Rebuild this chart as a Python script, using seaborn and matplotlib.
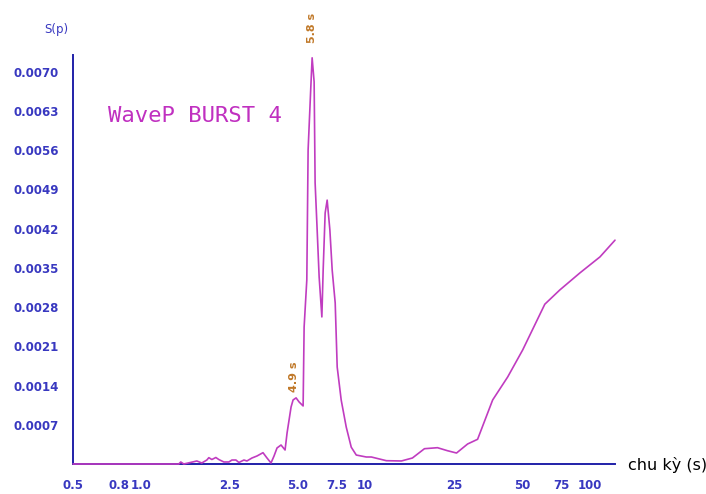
import matplotlib
matplotlib.use("Agg")
import matplotlib.pyplot as plt
import seaborn as sns
import pandas as pd

# Period (s) and spectral density S(p)
period = [0.5, 1.478, 1.509, 1.556, 1.725, 1.778, 1.872, 1.971, 2.012, 2.075, 2.162,
          2.229, 2.347, 2.471, 2.549, 2.656, 2.738, 2.883, 2.973, 3.13, 3.296,
          3.505, 3.652, 3.805, 3.925, 4.047, 4.217, 4.395, 4.486, 4.674, 4.771,
          4.92, 5.075, 5.288, 5.343, 5.492, 5.566, 5.723, 5.8, 5.92, 5.98,
          6.106, 6.232, 6.408, 6.494, 6.628, 6.766, 6.956, 7.124, 7.347, 7.499,
          7.814, 8.226, 8.66, 9.118, 10.1, 10.64, 12.41, 14.48, 16.21, 18.34,
          20.96, 23.23, 25.48, 28.54, 31.62, 36.9, 43.05, 50.2, 62.97, 73.47,
          90.2, 110.8, 129.3]
spectrum = [0.0, 0.0, 0.000036, 0.0, 0.000041, 0.000054, 0.000018, 0.000071, 0.000113,
            0.00008, 0.000116, 0.00008, 0.000036, 0.000036, 0.000071, 0.000071,
            0.000027, 0.000071, 0.000054, 0.000107, 0.000143, 0.000202, 0.000107,
            0.000018, 0.000143, 0.000286, 0.000339, 0.00025, 0.000554, 0.001018,
            0.001143, 0.00118, 0.001107, 0.001036, 0.002446, 0.003286, 0.005607,
            0.006732, 0.00725, 0.00682, 0.00502, 0.00418, 0.00334, 0.002625,
            0.00346, 0.00448, 0.00471, 0.00418, 0.00346, 0.002875, 0.00173,
            0.00114, 0.00066, 0.0003, 0.00016, 0.000125, 0.000125, 0.000059,
            0.000054, 0.000107, 0.000273, 0.000291, 0.000237, 0.000196, 0.000357,
            0.000441, 0.001143, 0.001554, 0.002036, 0.002852, 0.003107, 0.00341,
            0.003696, 0.003995]

x_ticks = [0.5, 0.8, 1.0, 2.5, 5.0, 7.5, 10, 25, 50, 75, 100]
x_tick_labels = ["0.5", "0.8", "1.0", "2.5", "5.0", "7.5", "10", "25", "50", "75", "100"]
y_ticks = [0.0007, 0.0014, 0.0021, 0.0028, 0.0035, 0.0042, 0.0049, 0.0056, 0.0063, 0.0070]
y_tick_labels = ["0.0007", "0.0014", "0.0021", "0.0028", "0.0035", "0.0042",
                 "0.0049", "0.0056", "0.0063", "0.0070"]
peak_labels = ["5.8 s", "4.9 s"]
peak_x = [5.8, 4.92]
peak_y = [0.00725, 0.00118]

title = "WaveP BURST 4"
x_label = "chu kỳ (s)"
y_label = "S(p)"

df = pd.DataFrame({"period": period, "S": spectrum})

sns.set_style("white")
plt.rcParams["font.family"] = ["DejaVu Sans"]

fig = plt.figure(figsize=(7.06, 4.94), dpi=100)
ax = fig.add_axes([73 / 706, 30 / 494, (615 - 73) / 706, (464 - 55) / 494])

line_color = "#c03cc0"
axis_color = "#2020a8"
label_color = "#3838c0"

sns.lineplot(data=df, x="period", y="S", ax=ax, color=line_color, linewidth=1.2,
             clip_on=False, zorder=5)

ax.set_xscale("log")
ax.set_xlim(0.5, 129.3)
ax.set_ylim(0, 0.0073)
ax.minorticks_off()
ax.set_xticks(x_ticks)
ax.set_xticklabels(x_tick_labels)
ax.set_yticks(y_ticks)
ax.set_yticklabels(y_tick_labels)
ax.set_xlabel("")
ax.set_ylabel("")

for side in ["top", "right"]:
    ax.spines[side].set_visible(False)
for side in ["left", "bottom"]:
    ax.spines[side].set_color(axis_color)
    ax.spines[side].set_linewidth(1.4)

ax.tick_params(axis="both", direction="inout", length=6, width=1.2, color=axis_color,
               labelcolor=label_color, labelsize=8.5)
ax.tick_params(axis="x", pad=8)
ax.tick_params(axis="y", pad=7)
for t in ax.get_xticklabels() + ax.get_yticklabels():
    t.set_fontweight("bold")

ax.text(0.065, 0.85, title, transform=ax.transAxes, fontsize=16,
        family="DejaVu Sans Mono", color="#c030c0", va="center", ha="left")

fig.text(56 / 706, 1 - 30 / 494, y_label, color=label_color, fontsize=8.5,
         ha="center", va="center")
fig.text(628 / 706, 1 - 465 / 494, x_label, color="black", fontsize=11.5,
         ha="left", va="center")

offsets = [15, 6]
for lab, px, py, off in zip(peak_labels, peak_x, peak_y, offsets):
    ax.annotate(lab, xy=(px, py), xytext=(-2 if lab.startswith("4") else 0, off),
                textcoords="offset pixels", rotation=90, ha="center", va="bottom",
                color="#c07828", fontsize=8, fontweight="bold", annotation_clip=False)

fig.savefig("out.png", dpi=100, facecolor="white")
